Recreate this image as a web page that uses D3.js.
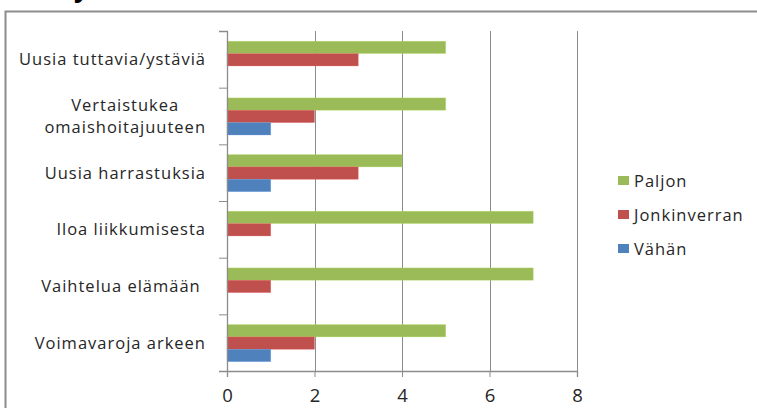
<!DOCTYPE html>
<html>
<head>
<meta charset="utf-8">
<script src="https://cdn.jsdelivr.net/npm/d3@7"></script>
<style>
  body { margin: 0; background: #fff; }
  text { font-family: "Open Sans", sans-serif; fill: #262626; }
</style>
</head>
<body>
<div id="wrap"></div>
<script>
// data
const categories = [
  "Uusia tuttavia/ystäviä",
  "Vertaistukea\nomaishoitajuuteen",
  "Uusia harrastuksia",
  "Iloa liikkumisesta",
  "Vaihtelua elämään ",
  "Voimavaroja arkeen"
];
const seriesNames = ["Paljon", "Jonkinverran", "Vähän"];
const paljon = [5, 5, 4, 7, 7, 5];
const jonkinverran = [3, 2, 3, 1, 1, 2];
const vahan = [0, 1, 1, 0, 0, 1];
const xTicks = [0, 2, 4, 6, 8];
const colors = ["#9bbb59", "#c0504d", "#4f81bd"];

const width = 757;
const height = 408;
const plot = { left: 227, right: 577, top: 31, bottom: 371 };
const labelSize = 16.5;
const labelSpacing = 1.0;

let svg = d3.select("#wrap")
  .append("svg")
  .attr("width", width)
  .attr("height", height);

// chart frame (only top & left visible)
svg.append("path")
  .attr("d", "M5.5,420 V11.5 H760")
  .attr("fill", "none")
  .attr("stroke", "#8c8c8c")
  .attr("stroke-width", 2);

// cut-off title glyph
svg.append("text")
  .attr("x", 74)
  .attr("y", -3)
  .attr("font-size", 26)
  .attr("font-weight", "bold")
  .style("fill", "#000")
  .text("y");

let xScale = d3.scaleLinear().domain([0, 8]).range([plot.left, plot.right]);
let yScale = d3.scaleBand().domain(categories).range([plot.top, plot.bottom]);
const bw = yScale.bandwidth();
let ySub = d3.scaleBand().domain(seriesNames).range([bw * 0.18, bw * 0.835]);

// gridlines
svg.append("g")
  .selectAll("line")
  .data(xTicks.slice(1))
  .enter()
  .append("line")
  .attr("x1", d => Math.round(xScale(d)) + 0.5)
  .attr("x2", d => Math.round(xScale(d)) + 0.5)
  .attr("y1", plot.top)
  .attr("y2", plot.bottom)
  .attr("stroke", "#8c8c8c")
  .attr("stroke-width", 1);

// bars
const rows = categories.map((c, i) => ({
  cat: c,
  values: [paljon[i], jonkinverran[i], vahan[i]]
}));
const groups = svg.append("g")
  .selectAll("g")
  .data(rows)
  .enter()
  .append("g")
  .attr("transform", d => "translate(0," + yScale(d.cat) + ")");
groups.selectAll("rect")
  .data(d => d.values.map((v, k) => ({ name: seriesNames[k], v: v, k: k })))
  .enter()
  .append("rect")
  .attr("x", xScale(0))
  .attr("y", d => ySub(d.name))
  .attr("width", d => xScale(d.v) - xScale(0))
  .attr("height", ySub.bandwidth())
  .attr("fill", d => colors[d.k])
  .attr("stroke", d => d3.color(colors[d.k]).brighter(0.6))
  .attr("stroke-opacity", 0.5)
  .attr("stroke-width", 0.6);

// x axis
const xAxis = d3.axisBottom(xScale).tickValues(xTicks).tickSize(6).tickPadding(12);
const gx = svg.append("g").attr("transform", "translate(0," + plot.bottom + ")");
xAxis(gx);
gx.select(".domain").attr("stroke", "#8c8c8c").attr("stroke-width", 1.3);
gx.selectAll(".tick line").attr("stroke", "#8c8c8c");
gx.selectAll(".tick text")
  .attr("font-size", 18.5)
  .attr("font-family", null);

// y axis (no labels from d3, drawn below)
const yAxis = d3.axisLeft(d3.scaleLinear().domain([0, categories.length]).range([plot.bottom, plot.top]))
  .ticks(categories.length).tickSize(8).tickFormat("");
const gy = svg.append("g").attr("transform", "translate(" + plot.left + ",0)");
yAxis(gy);
gy.select(".domain").attr("stroke", "#8c8c8c").attr("stroke-width", 1.3);
gy.selectAll(".tick line").attr("stroke", "#8c8c8c");

// category labels
const labelRight = 206;
categories.forEach(c => {
  const lines = c.split("\n");
  const cy = yScale(c) + bw / 2;
  const t = svg.append("text")
    .attr("font-size", labelSize)
    .attr("letter-spacing", labelSpacing)
    .style("white-space", "pre");
  lines.forEach((ln, j) => {
    t.append("tspan")
      .attr("y", cy + (j - (lines.length - 1) / 2) * 22)
      .attr("dy", "0.36em")
      .text(ln);
  });
  const spans = t.selectAll("tspan").nodes();
  const maxW = d3.max(spans, n => n.getComputedTextLength());
  spans.forEach(n => {
    d3.select(n).attr("x", labelRight - maxW / 2).attr("text-anchor", "middle");
  });
});

// legend
const legend = svg.append("g")
  .selectAll("g")
  .data(seriesNames)
  .enter()
  .append("g")
  .attr("transform", (d, i) => "translate(618," + (181 + i * 34) + ")");
legend.append("rect")
  .attr("x", 0)
  .attr("y", -5)
  .attr("width", 11)
  .attr("height", 9)
  .attr("fill", (d, i) => colors[i]);
legend.append("text")
  .attr("x", 16)
  .attr("dy", "0.36em")
  .attr("font-size", labelSize)
  .attr("letter-spacing", labelSpacing)
  .text(d => d);
</script>
</body>
</html>
